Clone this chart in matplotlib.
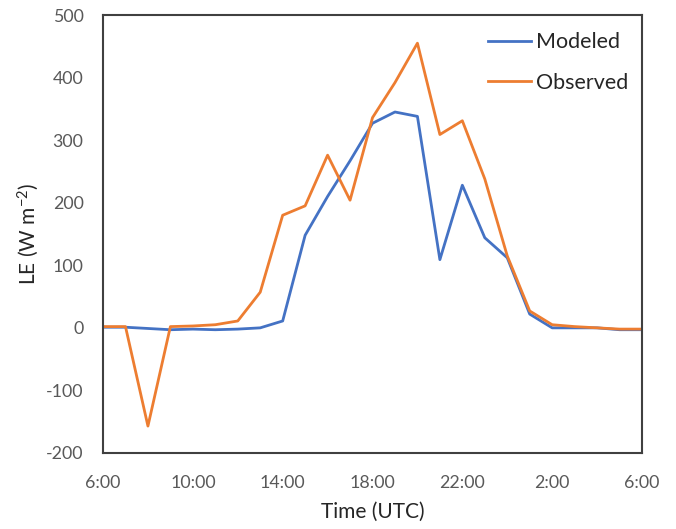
import numpy as np
import matplotlib.pyplot as plt

hours = ['6:00', '7:00', '8:00', '9:00', '10:00', '11:00', '12:00', '13:00',
         '14:00', '15:00', '16:00', '17:00', '18:00', '19:00', '20:00', '21:00',
         '22:00', '23:00', '0:00', '1:00', '2:00', '3:00', '4:00', '5:00', '6:00']
modeled = [1, 1, -1, -3, -2, -3, -2, 0, 11, 148, 210, 267, 327, 345, 338, 109,
           228, 144, 112, 22, 0, 0, 0, -3, -3]
observed = [2, 2, -157, 2, 3, 5, 11, 57, 180, 195, 276, 204, 336, 392, 455, 309,
            331, 238, 115, 27, 5, 2, 0, -2, -2]

plt.rcParams['font.family'] = ['Lato', 'DejaVu Sans']
plt.rcParams['axes.unicode_minus'] = False
plt.rcParams['mathtext.fontset'] = 'custom'
plt.rcParams['mathtext.rm'] = 'Lato'
plt.rcParams['mathtext.it'] = 'Lato'
plt.rcParams['mathtext.default'] = 'rm'

fig = plt.figure(figsize=(6.76, 5.29), dpi=100)
ax = fig.add_axes([0.1524, 0.1437, 0.7973, 0.8279])

x = np.arange(len(hours))
ax.plot(x, modeled, color='#4472C4', lw=2, label='Modeled')
ax.plot(x, observed, color='#ED7D31', lw=2, label='Observed')

ax.set_xlim(0, len(hours) - 1)
ax.set_ylim(-200, 500)
ax.set_xticks(x[::4])
ax.set_xticklabels(hours[::4])
ax.set_yticks(range(-200, 501, 100))
ax.tick_params(length=0, labelsize=12.8, colors='#595959')
ax.tick_params(axis='y', pad=14)
ax.tick_params(axis='x', pad=16)

for s in ax.spines.values():
    s.set_color('#404040')
    s.set_linewidth(1.5)

ax.set_xlabel('Time (UTC)', fontsize=15, color='#262626', labelpad=8)
ax.set_ylabel('LE (W m$^{-2}$)', fontsize=15, color='#262626', labelpad=4)

leg = ax.legend(loc='upper right', bbox_to_anchor=(0.99, 0.98), frameon=False,
                fontsize=15.5, handlelength=2.0, handletextpad=0.2,
                labelspacing=0.95, borderaxespad=0)
for t in leg.get_texts():
    t.set_color('#262626')

fig.savefig('out.png', dpi=100)
